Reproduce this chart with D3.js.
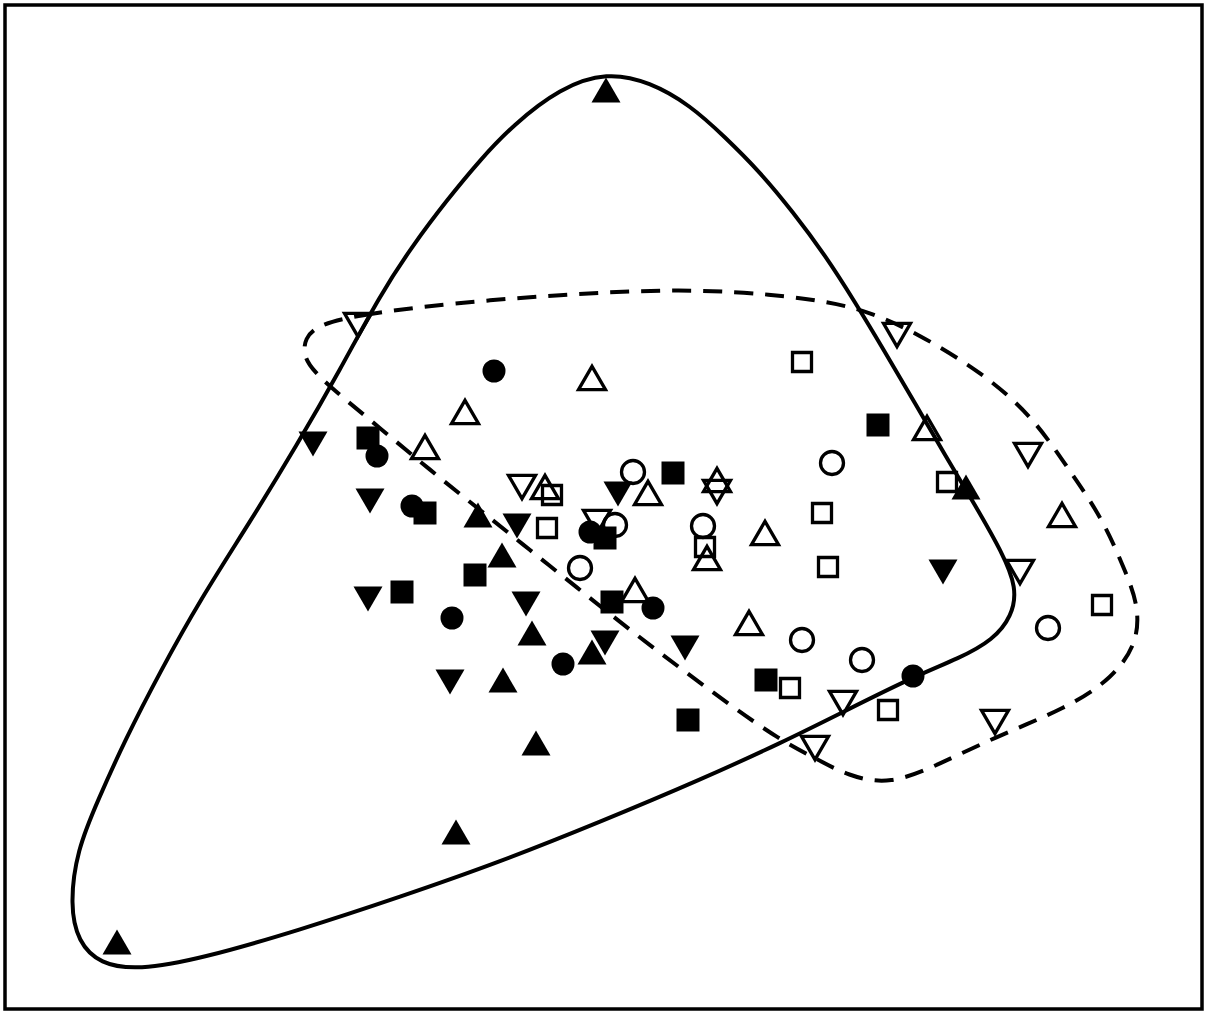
<!DOCTYPE html>
<html>
<head>
<meta charset="utf-8">
<script src="https://cdn.jsdelivr.net/npm/d3@7"></script>
<style>
body { margin: 0; background: #fff; }
</style>
</head>
<body>
<script>
// scores (x, y)
var filledTriUp = [[6.06,9.10],[1.17,0.58],[4.56,1.68],[5.36,2.57],[5.03,3.20],[5.32,3.67],[4.78,4.85],[5.02,4.45],[9.66,5.13],[5.92,3.48]];
var filledTriDown = [[3.13,5.56],[3.70,4.99],[3.68,4.01],[4.50,3.18],[5.17,4.74],[5.26,3.96],[6.85,3.52],[6.18,5.06],[9.43,4.28],[6.05,3.57]];
var filledCircle = [[4.94,6.29],[3.77,5.44],[4.12,4.94],[4.52,3.82],[5.63,3.36],[6.53,3.92],[9.13,3.24],[5.90,4.68]];
var filledSquare = [[3.68,5.62],[4.25,4.87],[4.02,4.08],[4.75,4.25],[6.12,3.98],[6.73,5.27],[8.78,5.75],[7.66,3.20],[6.88,2.80],[6.05,4.62]];
var openTriUp = [[5.92,6.22],[4.65,5.88],[4.25,5.53],[5.45,5.13],[6.48,5.07],[7.17,5.20],[7.07,4.42],[7.65,4.67],[6.35,4.10],[7.49,3.77],[9.27,5.72],[10.62,4.85]];
var openTriDown = [[3.58,6.75],[8.97,6.65],[10.28,5.45],[10.20,4.28],[5.22,5.13],[7.17,5.08],[5.97,4.78],[8.43,2.97],[8.15,2.52],[9.95,2.78]];
var openCircle = [[6.33,5.28],[6.15,4.75],[7.03,4.74],[5.80,4.32],[8.32,5.37],[8.02,3.60],[8.62,3.40],[10.48,3.72]];
var openSquare = [[8.02,6.38],[5.52,5.05],[5.47,4.72],[7.05,4.53],[8.22,4.87],[8.28,4.33],[9.47,5.18],[7.90,3.12],[8.88,2.90],[11.02,3.95]];

// outline of the filled group (solid) and the open group (dashed), control points
var solidHull = [[6.07,9.28],[6.50,9.18],[6.90,8.95],[7.25,8.63],[7.60,8.28],[7.93,7.88],[8.25,7.45],[8.55,6.98],[8.85,6.48],[9.15,5.97],[9.45,5.45],[9.75,4.95],[10.02,4.48],[10.17,4.12],[10.12,3.84],[9.93,3.60],[9.60,3.42],[9.13,3.23],[8.43,2.88],[7.83,2.58],[7.00,2.20],[6.00,1.78],[5.00,1.38],[4.00,1.03],[3.00,0.70],[2.00,0.41],[1.38,0.30],[1.00,0.36],[0.78,0.58],[0.70,0.95],[0.77,1.50],[0.98,2.00],[1.25,2.60],[1.60,3.28],[2.00,4.00],[2.50,4.78],[2.97,5.55],[3.40,6.30],[3.80,7.05],[4.13,7.55],[4.47,8.00],[4.80,8.40],[5.13,8.75],[5.60,9.12]];
var dashedHull = [[3.20,6.76],[3.60,6.85],[4.20,6.93],[4.90,7.00],[5.60,7.05],[6.30,7.09],[7.00,7.10],[7.70,7.06],[8.30,6.98],[8.70,6.88],[9.17,6.67],[9.83,6.27],[10.33,5.83],[10.67,5.33],[11.02,4.83],[11.27,4.25],[11.38,3.95],[11.38,3.58],[11.13,3.22],[10.67,2.92],[9.93,2.62],[9.40,2.36],[8.90,2.15],[8.48,2.24],[8.15,2.42],[7.80,2.60],[7.30,2.95],[6.80,3.32],[6.30,3.70],[5.80,4.10],[5.30,4.50],[4.80,4.90],[4.30,5.30],[3.80,5.72],[3.30,6.13],[3.15,6.28],[3.04,6.42],[3.04,6.62]];

var w = 1207;
var h = 1014;

var svg = d3.select("body")
	.append("svg")
	.attr("width", w)
	.attr("height", h);

svg.append("rect")
	.attr("width", w).attr("height", h)
	.attr("fill", "#fff");

var x = d3.scaleLinear().domain([0, 12.07]).range([0, 1207]);
var y = d3.scaleLinear().domain([0, 10]).range([1000, 0]);

// frame
svg.append("rect")
	.attr("x", 5).attr("y", 5)
	.attr("width", 1197).attr("height", 1004)
	.attr("fill", "none")
	.attr("stroke", "#000")
	.attr("stroke-width", 3.5);

var hullLine = d3.line()
	.x(function(d){ return x(d[0]); })
	.y(function(d){ return y(d[1]); })
	.curve(d3.curveBasisClosed);

svg.append("path")
	.attr("d", hullLine(solidHull))
	.attr("fill", "none")
	.attr("stroke", "#000")
	.attr("stroke-width", 4);

svg.append("path")
	.attr("d", hullLine(dashedHull))
	.attr("fill", "none")
	.attr("stroke", "#000")
	.attr("stroke-width", 4)
	.attr("stroke-dasharray", "19,12");

// symbol shapes, size = full width
var triUp = { draw: function(ctx, s){
	var hh = s * 0.43;
	ctx.moveTo(0, -hh); ctx.lineTo(s/2, hh); ctx.lineTo(-s/2, hh); ctx.closePath();
}};
var triDown = { draw: function(ctx, s){
	var hh = s * 0.43;
	ctx.moveTo(0, hh); ctx.lineTo(s/2, -hh); ctx.lineTo(-s/2, -hh); ctx.closePath();
}};
var square = { draw: function(ctx, s){ ctx.rect(-s/2, -s/2, s, s); }};
var circle = { draw: function(ctx, s){ ctx.moveTo(s/2, 0); ctx.arc(0, 0, s/2, 0, 2*Math.PI); }};

var series = [
	{data: openSquare, type: square, size: 19, filled: false},
	{data: openCircle, type: circle, size: 23, filled: false},
	{data: openTriUp, type: triUp, size: 27, filled: false},
	{data: openTriDown, type: triDown, size: 27, filled: false},
	{data: filledSquare, type: square, size: 23, filled: true},
	{data: filledCircle, type: circle, size: 23, filled: true},
	{data: filledTriUp, type: triUp, size: 29, filled: true},
	{data: filledTriDown, type: triDown, size: 29, filled: true}
];

series.forEach(function(s){
	var sym = d3.symbol().type(s.type).size(s.size);
	svg.append("g").selectAll("path")
		.data(s.data)
		.enter()
		.append("path")
		.attr("transform", function(d){ return "translate(" + x(d[0]) + "," + y(d[1]) + ")"; })
		.attr("d", sym)
		.attr("fill", s.filled ? "#000" : "none")
		.attr("stroke", s.filled ? "none" : "#000")
		.attr("stroke-width", 3.3);
});
</script>
</body>
</html>
